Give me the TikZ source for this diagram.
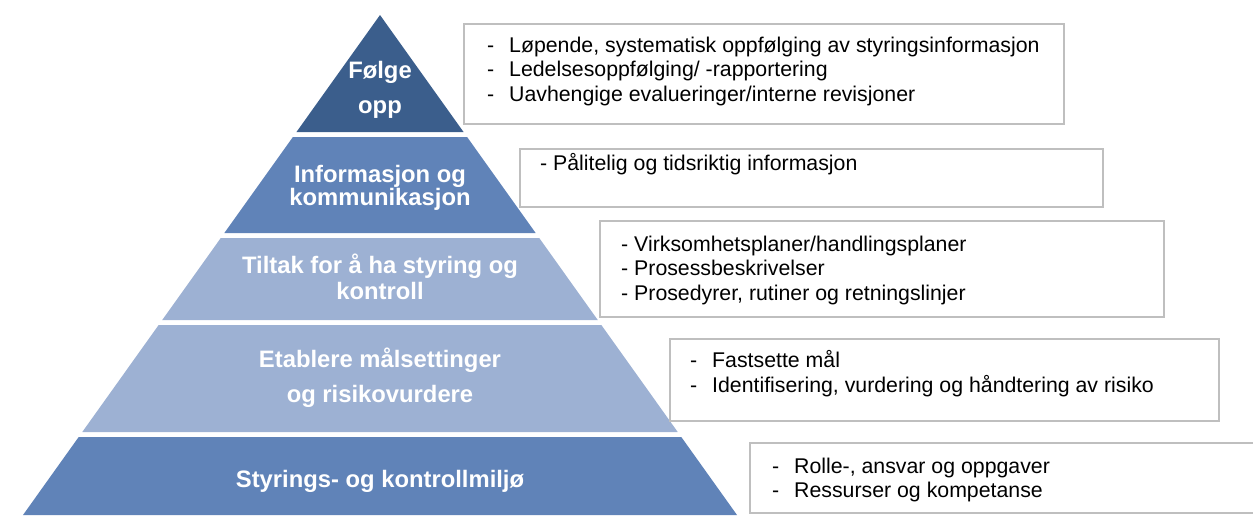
\documentclass[tikz,border=0pt]{standalone}
\usepackage{fontspec}
\setmainfont{Liberation Sans}
\usepackage{xcolor}
\usepackage{tikz}
\usetikzlibrary{positioning}
\definecolor{pyrdark}{RGB}{59,94,140}
\definecolor{pyrmid}{RGB}{96,131,184}
\definecolor{pyrlight}{RGB}{157,177,211}
\definecolor{boxgray}{RGB}{191,191,191}
\newcommand{\dtab}{\makebox[22pt][l]{-}}
\newcommand{\tierfont}[1]{\fontsize{23.8}{#1}\selectfont\bfseries}

\begin{document}
\begin{tikzpicture}[x=1pt, y=-1pt,
  tier/.style={text=white, align=center, anchor=base, inner sep=0pt},
  infobox/.style={draw=boxgray, line width=1.8pt, anchor=north west, inner sep=0pt},
  boxtext/.style={anchor=base west, align=left, inner sep=0pt, font=\fontsize{21.3}{24.5}\selectfont}]
  \useasboundingbox (0,0) rectangle (1253,515);
  \foreach \t/\b/\c in {15/132/pyrdark, 137/233/pyrmid, 238/320/pyrlight, 325/432/pyrlight, 437/515/pyrmid} {
    \fill[\c] ({380-(\t-15)*0.714},\t) -- ({380+(\t-15)*0.714},\t) -- ({380+(\b-15)*0.714},\b) -- ({380-(\b-15)*0.714},\b) -- cycle;
  }
  \node[tier, font=\tierfont{35}] (folge) at (380,113) {Følge\\opp};
  \node[tier, font=\tierfont{23.5}] (info) at (380,205.5) {Informasjon og\\kommunikasjon};
  \node[tier, font=\tierfont{26}] (tiltak) at (380,299) {Tiltak for å ha styring og\\kontroll};
  \node[tier, font=\tierfont{35}] (etablere) at (380,402) {Etablere målsettinger\\og risikovurdere};
  \node[tier, font=\tierfont{24}] (miljo) at (380,487) {Styrings- og kontrollmiljø};

  \node[infobox, minimum width=600, minimum height=100] (folgebox) at (463,23) {};
  \node[infobox, minimum width=583, minimum height=58] (infobox) at (519,148) {};
  \node[infobox, minimum width=564, minimum height=96] (tiltakbox) at (599,220) {};
  \node[infobox, minimum width=549, minimum height=82] (etablerebox) at (669,338) {};
  \node[infobox, minimum width=511, minimum height=70] (miljobox) at (749,442) {};

  \node[boxtext] (folgetxt) at (487,101)
    {\dtab Løpende, systematisk oppfølging av styringsinformasjon\\\dtab Ledelsesoppfølging/ -rapportering\\\dtab Uavhengige evalueringer/interne revisjoner};
  \node[boxtext] (infotxt) at (540,170) {- Pålitelig og tidsriktig informasjon};
  \node[boxtext] (tiltaktxt) at (621,300)
    {- Virksomhetsplaner/handlingsplaner\\- Prosessbeskrivelser\\- Prosedyrer, rutiner og retningslinjer};
  \node[boxtext] (etableretxt) at (690,392)
    {\dtab Fastsette mål\\\dtab Identifisering, vurdering og håndtering av risiko};
  \node[boxtext] (miljotxt) at (772,497.5)
    {\dtab Rolle-, ansvar og oppgaver\\\dtab Ressurser og kompetanse};
\end{tikzpicture}
\end{document}
